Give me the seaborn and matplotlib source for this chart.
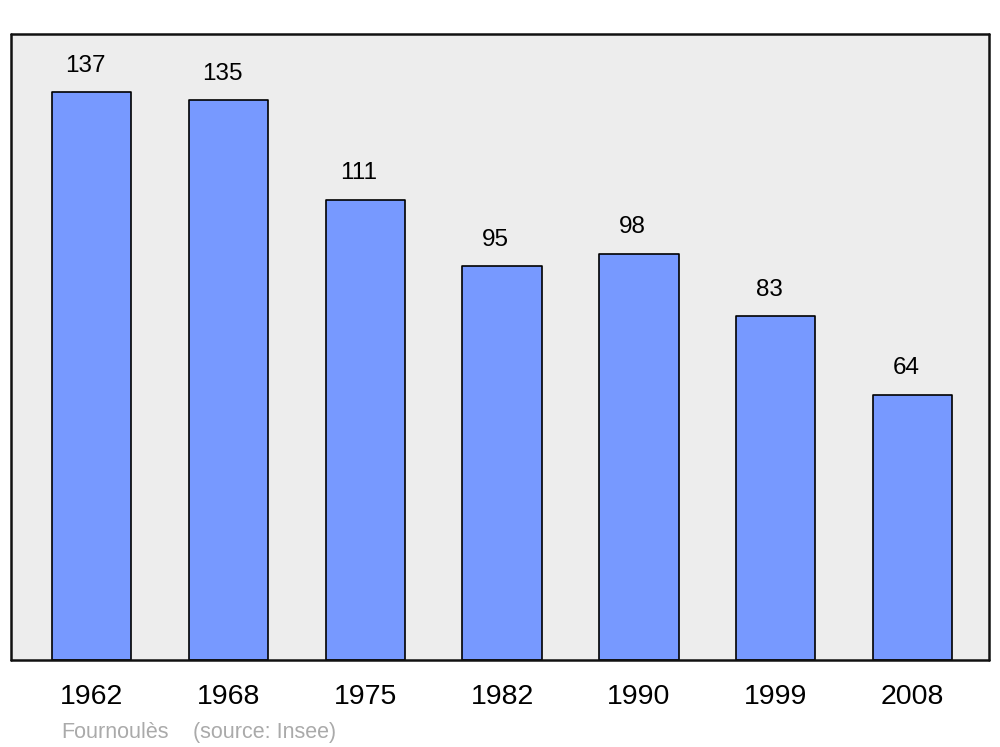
import matplotlib.pyplot as plt
import pandas as pd
import seaborn as sns

years = ["1962", "1968", "1975", "1982", "1990", "1999", "2008"]
population = [137, 135, 111, 95, 98, 83, 64]
commune = "Fournoulès"
source = "(source: Insee)"

df = pd.DataFrame({"year": years, "pop": population})

sns.set_theme(style="white")
plt.rcParams['font.family'] = ['Liberation Sans', 'DejaVu Sans']

fig = plt.figure(figsize=(10, 7.47), dpi=100)
ax = fig.add_axes([0.011, 0.1165, 0.978, 0.838])
ax.set_facecolor("#ededed")

sns.barplot(data=df, x="year", y="pop", color="#7799ff", saturation=1,
            width=0.58, edgecolor="black", linewidth=1.2, ax=ax)
for bar in ax.patches:
    bar.set_joinstyle("round")

for i, v in enumerate(population):
    ax.annotate(str(v), (i, v), xytext=(-4.5, 19), textcoords="offset points",
                ha="center", va="center", fontsize=17.5, color="black")

ax.set_xlim(-0.59, 6.56)
ax.set_ylim(0, 151)
ax.set_xlabel("")
ax.set_ylabel("")
ax.set_yticks([])
ax.tick_params(axis="x", length=0, pad=17.5, labelsize=20.5, colors="black")
for s in ax.spines.values():
    s.set_visible(True)
    s.set_color("#111111")
    s.set_linewidth(1.8)
    s.set_capstyle("round")
    s.set_joinstyle("round")

fig.text(0.061, 0.020, commune, fontsize=15.5, color="#aaaaaa", va="center")
fig.text(0.193, 0.020, source, fontsize=15.5, color="#aaaaaa", va="center")

fig.savefig("out.png", dpi=100)
